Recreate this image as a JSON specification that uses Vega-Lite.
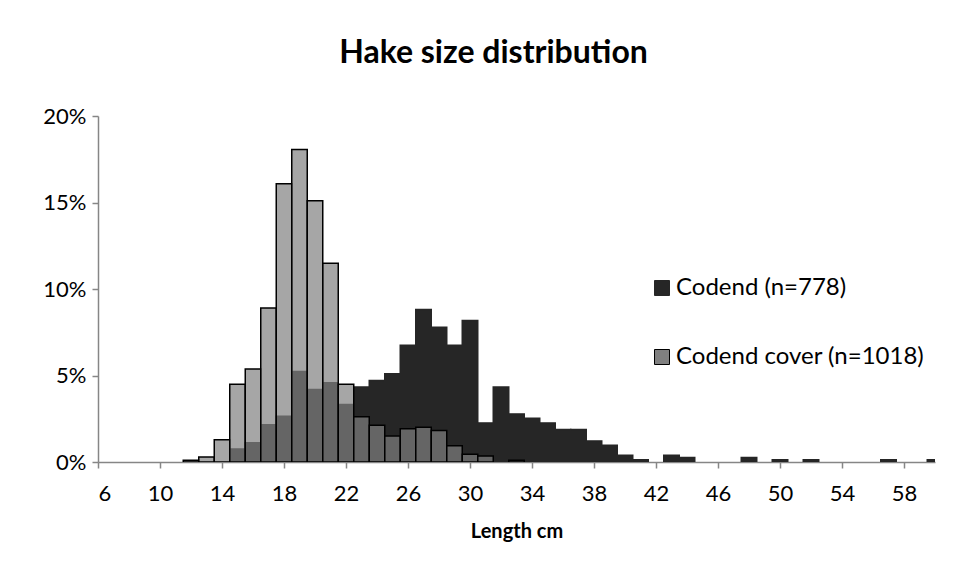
{
  "$schema": "https://vega.github.io/schema/vega-lite/v6.json",
  "width": 837,
  "height": 346,
  "autosize": {"type": "none"},
  "padding": {"left": 98, "top": 116, "right": 27, "bottom": 119},
  "background": "white",
  "title": {
    "text": "Hake size distribution",
    "font": "Lato",
    "fontSize": 32,
    "fontWeight": "bold",
    "color": "black",
    "anchor": "middle",
    "offset": 35,
    "dx": -23
  },
  "data": {
    "values": [
      {"len": 15, "series": "Codend (n=778)", "pct": 0.75},
      {"len": 16, "series": "Codend (n=778)", "pct": 1.11},
      {"len": 17, "series": "Codend (n=778)", "pct": 2.15},
      {"len": 18, "series": "Codend (n=778)", "pct": 2.65},
      {"len": 19, "series": "Codend (n=778)", "pct": 5.23},
      {"len": 20, "series": "Codend (n=778)", "pct": 4.19},
      {"len": 21, "series": "Codend (n=778)", "pct": 4.58},
      {"len": 22, "series": "Codend (n=778)", "pct": 3.32},
      {"len": 23, "series": "Codend (n=778)", "pct": 4.33},
      {"len": 24, "series": "Codend (n=778)", "pct": 4.71},
      {"len": 25, "series": "Codend (n=778)", "pct": 5.1},
      {"len": 26, "series": "Codend (n=778)", "pct": 6.75},
      {"len": 27, "series": "Codend (n=778)", "pct": 8.81},
      {"len": 28, "series": "Codend (n=778)", "pct": 7.79},
      {"len": 29, "series": "Codend (n=778)", "pct": 6.75},
      {"len": 30, "series": "Codend (n=778)", "pct": 8.18},
      {"len": 31, "series": "Codend (n=778)", "pct": 2.26},
      {"len": 32, "series": "Codend (n=778)", "pct": 4.33},
      {"len": 33, "series": "Codend (n=778)", "pct": 2.78},
      {"len": 34, "series": "Codend (n=778)", "pct": 2.53},
      {"len": 35, "series": "Codend (n=778)", "pct": 2.26},
      {"len": 36, "series": "Codend (n=778)", "pct": 1.88},
      {"len": 37, "series": "Codend (n=778)", "pct": 1.88},
      {"len": 38, "series": "Codend (n=778)", "pct": 1.22},
      {"len": 39, "series": "Codend (n=778)", "pct": 0.97},
      {"len": 40, "series": "Codend (n=778)", "pct": 0.39},
      {"len": 41, "series": "Codend (n=778)", "pct": 0.13},
      {"len": 43, "series": "Codend (n=778)", "pct": 0.39},
      {"len": 44, "series": "Codend (n=778)", "pct": 0.26},
      {"len": 48, "series": "Codend (n=778)", "pct": 0.26},
      {"len": 50, "series": "Codend (n=778)", "pct": 0.13},
      {"len": 52, "series": "Codend (n=778)", "pct": 0.13},
      {"len": 57, "series": "Codend (n=778)", "pct": 0.13},
      {"len": 60, "series": "Codend (n=778)", "pct": 0.13},
      {"len": 12, "series": "Codend cover (n=1018)", "pct": 0.1},
      {"len": 13, "series": "Codend cover (n=1018)", "pct": 0.29},
      {"len": 14, "series": "Codend cover (n=1018)", "pct": 1.28},
      {"len": 15, "series": "Codend cover (n=1018)", "pct": 4.49},
      {"len": 16, "series": "Codend cover (n=1018)", "pct": 5.37},
      {"len": 17, "series": "Codend cover (n=1018)", "pct": 8.9},
      {"len": 18, "series": "Codend cover (n=1018)", "pct": 16.08},
      {"len": 19, "series": "Codend cover (n=1018)", "pct": 18.07},
      {"len": 20, "series": "Codend cover (n=1018)", "pct": 15.1},
      {"len": 21, "series": "Codend cover (n=1018)", "pct": 11.49},
      {"len": 22, "series": "Codend cover (n=1018)", "pct": 4.49},
      {"len": 23, "series": "Codend cover (n=1018)", "pct": 2.61},
      {"len": 24, "series": "Codend cover (n=1018)", "pct": 2.13},
      {"len": 25, "series": "Codend cover (n=1018)", "pct": 1.51},
      {"len": 26, "series": "Codend cover (n=1018)", "pct": 1.92},
      {"len": 27, "series": "Codend cover (n=1018)", "pct": 2.01},
      {"len": 28, "series": "Codend cover (n=1018)", "pct": 1.82},
      {"len": 29, "series": "Codend cover (n=1018)", "pct": 0.94},
      {"len": 30, "series": "Codend cover (n=1018)", "pct": 0.45},
      {"len": 31, "series": "Codend cover (n=1018)", "pct": 0.34},
      {"len": 33, "series": "Codend cover (n=1018)", "pct": 0.1}
    ]
  },
  "transform": [
    {"bin": {"step": 1, "anchor": 0.5, "extent": [5.5, 60.5]}, "field": "len", "as": ["b0", "b1"]}
  ],
  "mark": {"type": "bar", "clip": true, "strokeWidth": 1.5},
  "encoding": {
    "x": {
      "field": "b0",
      "type": "quantitative",
      "scale": {"domain": [6, 60], "nice": false, "zero": false},
      "axis": {
        "values": [6, 10, 14, 18, 22, 26, 30, 34, 38, 42, 46, 50, 54, 58],
        "format": "d",
        "title": "Length cm",
        "grid": false
      }
    },
    "x2": {"field": "b1"},
    "y": {
      "field": "pct",
      "type": "quantitative",
      "stack": null,
      "scale": {"domain": [0, 20], "nice": false},
      "axis": {
        "values": [0, 5, 10, 15, 20],
        "labelExpr": "datum.value + '%'",
        "title": null,
        "grid": false
      }
    },
    "y2": {"datum": 0},
    "color": {
      "field": "series",
      "type": "nominal",
      "scale": {"domain": ["Codend (n=778)", "Codend cover (n=1018)"], "range": ["#262626", "#808080"]},
      "legend": {
        "title": null,
        "orient": "none",
        "legendX": 552,
        "legendY": 160,
        "symbolType": "square",
        "symbolSize": 225,
        "symbolStrokeWidth": 1,
        "labelFont": "Lato",
        "labelFontSize": 24,
        "labelColor": "black",
        "labelOffset": 2,
        "labelLimit": 400,
        "rowPadding": 45
      }
    },
    "fillOpacity": {
      "field": "series",
      "type": "nominal",
      "scale": {"domain": ["Codend (n=778)", "Codend cover (n=1018)"], "range": [1, 0.7]},
      "legend": null
    },
    "stroke": {
      "field": "series",
      "type": "nominal",
      "scale": {"domain": ["Codend (n=778)", "Codend cover (n=1018)"], "range": ["#262626", "#000000"]},
      "legend": null
    }
  },
  "config": {
    "view": {"stroke": null},
    "axis": {
      "domainColor": "#868686",
      "domainWidth": 1.5,
      "tickColor": "#868686",
      "tickWidth": 1.5,
      "tickSize": 6,
      "labelFont": "Lato",
      "labelFontSize": 22,
      "labelColor": "black",
      "titleFont": "Lato",
      "titleFontSize": 20,
      "titleFontWeight": "bold",
      "titleColor": "black"
    },
    "axisX": {"labelPadding": 15, "titlePadding": 17},
    "axisY": {"labelPadding": 6}
  }
}
